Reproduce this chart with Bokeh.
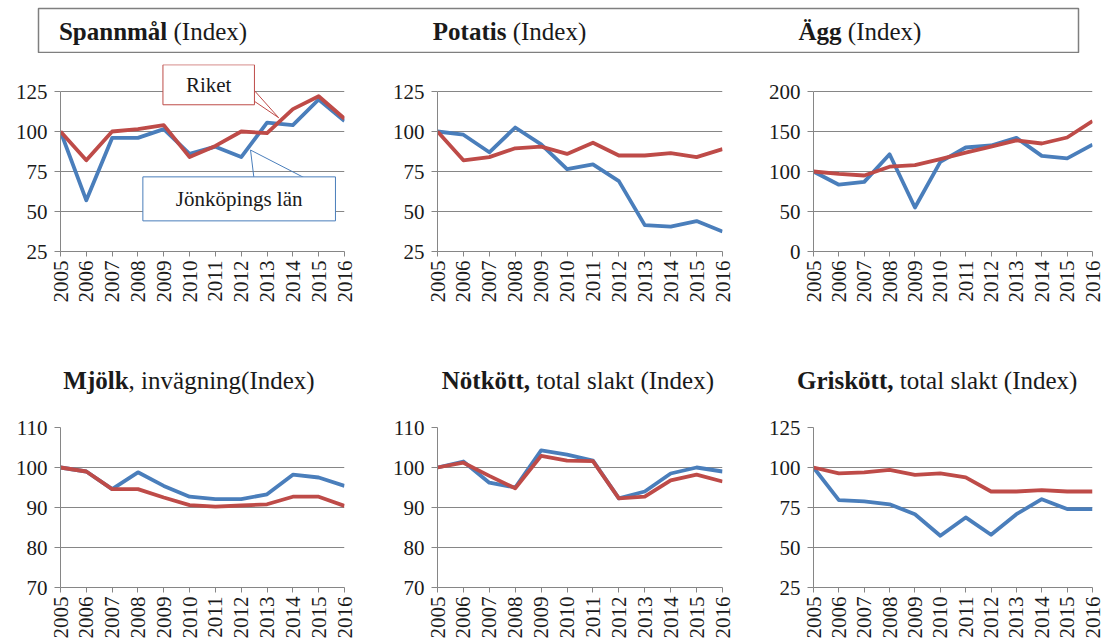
import math
from bokeh.plotting import figure
from bokeh.models import Range1d, FixedTicker, Label
from bokeh.layouts import column, row
from bokeh.core.properties import value
from bokeh.embed import file_html
from bokeh.resources import INLINE

# ---------------- data ----------------
years = list(range(2005, 2017))

spannmal_riket = [100, 82, 100, 101.5, 104, 84, 91, 100, 99, 114, 122, 108]
spannmal_jkpg = [100, 57, 96, 96, 101.5, 86, 90.5, 84, 105.5, 104, 120, 106.5]
potatis_riket = [100, 82, 84, 89.5, 90.5, 86, 93, 85, 85, 86.5, 84, 89]
potatis_jkpg = [100, 98, 87, 102.5, 92, 76.5, 79.5, 69, 41.5, 40.5, 44, 37.5]
agg_riket = [100, 97, 95, 106, 108, 115.5, 123.5, 131, 139, 135, 142.5, 163]
agg_jkpg = [100, 83.5, 87, 121.5, 55, 112, 130, 132.5, 142, 119.5, 116.5, 133.5]
mjolk_riket = [100, 99, 94.6, 94.6, 92.5, 90.6, 90.2, 90.5, 90.8, 92.7, 92.7, 90.4]
mjolk_jkpg = [100, 99, 94.6, 98.8, 95.4, 92.7, 92.1, 92.1, 93.3, 98.2, 97.5, 95.4]
notkott_riket = [100, 101.2, 97.9, 94.8, 102.9, 101.7, 101.6, 92.3, 92.7, 96.8, 98.2, 96.5]
notkott_jkpg = [100, 101.5, 96.2, 95, 104.3, 103.2, 101.7, 92.3, 94, 98.5, 100, 99]
griskott_riket = [100, 96.3, 97, 98.5, 95.4, 96.3, 93.8, 85, 85, 85.8, 85, 85]
griskott_jkpg = [100, 79.6, 78.8, 77, 70.8, 57.3, 68.8, 58, 70.8, 80.2, 74, 74]

ticks_125 = [25, 50, 75, 100, 125]
ticks_200 = [0, 50, 100, 150, 200]
ticks_110 = [70, 80, 90, 100, 110]

top_titles_bold = ["Spannmål", "Potatis", "Ägg"]
top_titles_rest = ["(Index)", "(Index)", "(Index)"]
bottom_titles_bold = ["Mjölk", "Nötkött,", "Griskött,"]
bottom_titles_rest = [", invägning(Index)", "total slakt (Index)", "total slakt (Index)"]

label_riket = "Riket"
label_jkpg = "Jönköpings län"

# ---------------- style ----------------
RED = "#BE4B48"
BLUE = "#4A7EBB"
GRID = "#868686"
TXT = "#1a1a1a"
FONT = "Liberation Serif"


def panel(width, left, right, height, top, bottom, ymin, ymax_axis, ymax_range, yticks, riket, jkpg):
    p = figure(width=width, height=height, output_backend="svg", toolbar_location=None,
               x_range=Range1d(2005, 2016), y_range=Range1d(ymin, ymax_range),
               min_border_left=left, min_border_right=right,
               min_border_top=top, min_border_bottom=bottom)
    p.outline_line_color = None
    p.background_fill_color = "white"
    p.border_fill_color = "white"
    p.xgrid.grid_line_color = None
    p.ygrid.grid_line_color = GRID
    p.ygrid.grid_line_width = 1

    p.xaxis.ticker = FixedTicker(ticks=years)
    p.xaxis.major_label_overrides = {y: str(y) for y in years}
    p.yaxis.ticker = FixedTicker(ticks=yticks)
    p.yaxis.major_label_overrides = {t: str(t) for t in yticks}
    p.yaxis.bounds = (ymin, ymax_axis)
    for ax in (p.xaxis, p.yaxis):
        ax.axis_line_color = GRID
        ax.major_tick_line_color = GRID
        ax.minor_tick_line_color = None
        ax.major_tick_in = 0
        ax.major_label_text_font = FONT
        ax.major_label_text_font_size = "21px"
        ax.major_label_text_color = TXT
    p.xaxis.major_tick_out = 5
    p.xaxis.major_label_standoff = 4
    p.xaxis.major_label_orientation = math.pi / 2
    p.yaxis.major_tick_out = 6
    p.yaxis.major_label_standoff = 7

    p.line(years, jkpg, line_color=BLUE, line_width=3.8, line_join="round")
    p.line(years, riket, line_color=RED, line_width=3.8, line_join="round")
    return p


# Row 1: frame 91..251 for the axis part, extended 27 px above for the callout box
H1, T1, B1 = 292, 11, 94
p1 = panel(375, 60, 31, H1, T1, B1, 25, 125, 141.875, ticks_125, spannmal_riket, spannmal_jkpg)
p2 = panel(375, 62, 28, H1, T1, B1, 25, 125, 141.875, ticks_125, potatis_riket, potatis_jkpg)
p3 = panel(356, 63, 14, H1, T1, B1, 0, 200, 233.75, ticks_200, agg_riket, agg_jkpg)

# Row 2: frame 427..587
H2, T2, B2 = 242, 27, 55
p4 = panel(375, 60, 31, H2, T2, B2, 70, 110, 110, ticks_110, mjolk_riket, mjolk_jkpg)
p5 = panel(375, 62, 28, H2, T2, B2, 70, 110, 110, ticks_110, notkott_riket, notkott_jkpg)
p6 = panel(356, 63, 14, H2, T2, B2, 25, 125, 125, ticks_125, griskott_riket, griskott_jkpg)

# Callouts in the first panel
p1.line([2012.48, 2013.45, 2012.48], [126.1, 108.6, 119.2], line_color=RED, line_width=1)
p1.line([2012.49, 2012.36, 2014.43], [71.2, 88.4, 71.2], line_color=BLUE, line_width=1)
p1.add_layout(Label(x=2010.74, y=129.2, text=label_riket, text_align="center",
                    text_baseline="middle", text_font=FONT, text_font_size="21px",
                    text_color=TXT, border_line_color=RED, border_line_width=1,
                    background_fill_color="white",
                    padding=dict(left=23, right=23, top=8, bottom=8)))
p1.add_layout(Label(x=2011.92, y=57.9, text=label_jkpg, text_align="center",
                    text_baseline="middle", text_font=FONT, text_font_size="21px",
                    text_color=TXT, border_line_color=BLUE, border_line_width=1,
                    background_fill_color="white",
                    padding=dict(left=33, right=33, top=10, bottom=10)))

# Header box with top titles (data x == canvas x)
header = figure(width=1106, height=53, output_backend="svg", toolbar_location=None,
                x_range=Range1d(38, 1078), y_range=Range1d(0, 44),
                x_axis_type=None, y_axis_type=None,
                min_border_left=38, min_border_right=28, min_border_top=8, min_border_bottom=1)
header.grid.visible = False
header.outline_line_color = "#7f7f7f"
header.outline_line_width = 1.5
top_join = [166.8, 505.9, 841.1]
top_rest_x = [173.0, 512.2, 847.3]
header.text(top_join, [21] * 3, text=top_titles_bold, text_align="right", text_baseline="middle",
            text_font=value(FONT), text_font_style="bold", text_font_size="25px", text_color=TXT)
header.text(top_rest_x, [21] * 3, text=top_titles_rest, text_align="left", text_baseline="middle",
            text_font=value(FONT), text_font_size="25px", text_color=TXT)

# Strip with bottom titles (same borders as header, data x == canvas x)
strip = figure(width=1106, height=55, output_backend="svg", toolbar_location=None,
               x_range=Range1d(38, 1078), y_range=Range1d(0, 55),
               x_axis_type=None, y_axis_type=None,
               min_border_left=38, min_border_right=28, min_border_top=0, min_border_bottom=0)
strip.grid.visible = False
strip.outline_line_color = None
bot_join = [128.1, 529.5, 893.0]
bot_rest_x = [128.1, 535.8, 899.2]
strip.text(bot_join, [20] * 3, text=bottom_titles_bold, text_align="right", text_baseline="middle",
           text_font=value(FONT), text_font_style="bold", text_font_size="25px", text_color=TXT)
strip.text(bot_rest_x, [20] * 3, text=bottom_titles_rest, text_align="left", text_baseline="middle",
           text_font=value(FONT), text_font_size="25px", text_color=TXT)

layout = column(header, row(p1, p2, p3), strip, row(p4, p5, p6))
open("out.html", "w").write(file_html(layout, INLINE))
